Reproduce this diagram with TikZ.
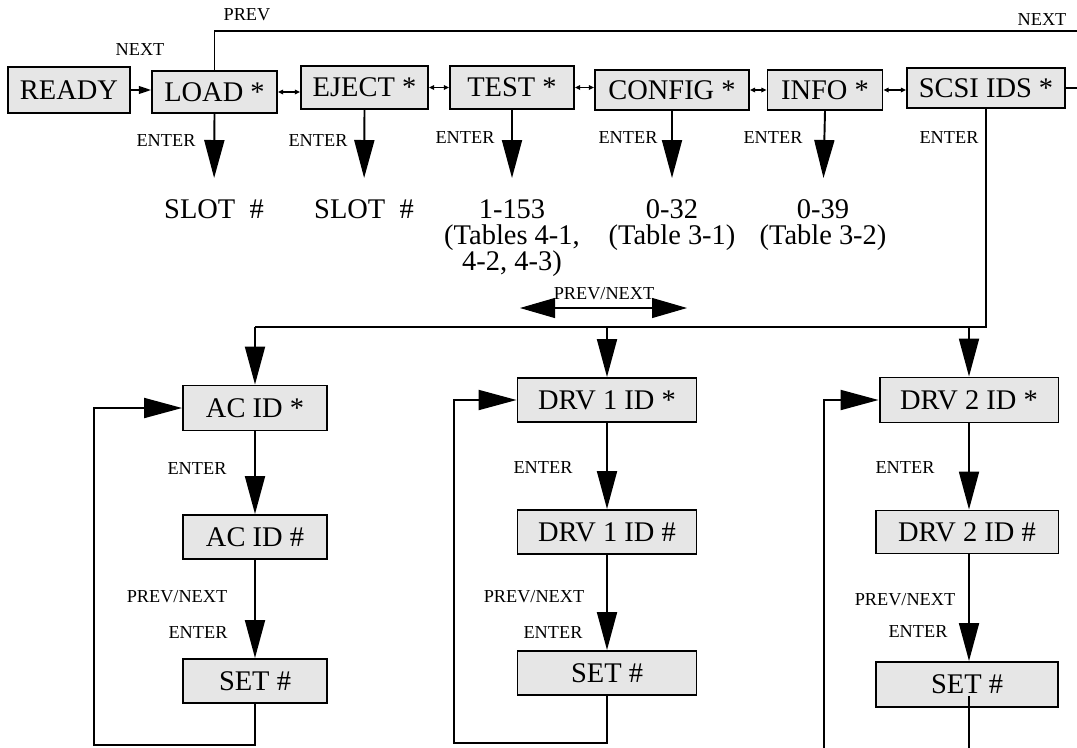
\documentclass[tikz,border=0pt]{standalone}
\usepackage{fontspec}
\setmainfont{Liberation Serif}
\usetikzlibrary{arrows.meta, positioning}
\definecolor{panelgray}{HTML}{E6E6E6}
\newcommand{\bigtxt}{\fontsize{16.2}{15}\selectfont}
\newcommand{\smalltxt}{\fontsize{10.4}{12}\selectfont}

\begin{document}
\begin{tikzpicture}[x=0.02cm, y=-0.02cm,
    menu/.style={draw, fill=panelgray, line width=1.1pt, font=\bigtxt, inner sep=0pt},
    lbl/.style={font=\smalltxt, inner sep=0pt},
    val/.style={font=\bigtxt, align=center, inner sep=0pt, anchor=north},
    link/.style={line width=1.1pt},
    enter/.style={line width=1.1pt, -{Triangle[length=0.76cm, width=0.4cm]}},
    hop/.style={line width=0.8pt, {Triangle[length=3pt, width=2.6pt]}-{Triangle[length=3pt, width=2.6pt]}},
    scroll/.style={line width=0.6pt, {Triangle[length=0.7cm, width=0.4cm]}-{Triangle[length=0.7cm, width=0.4cm]}}]
  \useasboundingbox (0,0) rectangle (1077,747);
  \clip (0,0) rectangle (1077,747);

  % top menu row
  \node[menu, minimum width=2.44cm, minimum height=0.92cm] (ready) at (69,90) {READY};
  \node[menu, minimum width=2.5cm, minimum height=0.84cm] (load) at (214.5,92) {LOAD *};
  \node[menu, minimum width=2.54cm, minimum height=0.86cm] (eject) at (364.5,87.5) {EJECT *};
  \node[menu, minimum width=2.48cm, minimum height=0.86cm] (test) at (512,87.5) {TEST *};
  \node[menu, minimum width=3.08cm, minimum height=0.8cm] (config) at (672,90) {CONFIG *};
  \node[menu, minimum width=2.3cm, minimum height=0.8cm] (info) at (825,90) {INFO *};
  \node[menu, minimum width=3.16cm, minimum height=0.8cm] (scsi) at (986,88) {SCSI IDS *};

  \draw[line width=0.8pt, -{Triangle[length=7pt, width=4.5pt]}] (ready.east) -- (ready.east -| load.west);
  \draw[hop] (load.east) -- (load.east -| eject.west);
  \draw[hop] (eject.east) -- (eject.east -| test.west);
  \draw[hop] (test.east) -- (test.east -| config.west);
  \draw[hop] (config.east) -- (config.east -| info.west);
  \draw[hop] (info.east) -- (info.east -| scsi.west);

  \node[lbl] (prevtop) at (247,15) {PREV};
  \node[lbl] (nexttop) at (1042,20) {NEXT};
  \node[lbl] (nextready) at (140,50) {NEXT};

  % wrap around from the last item
  \coordinate (wrapR) at (1095,88);
  \coordinate (wrapL) at (214.5,31);
  \draw[link] (scsi.east) -- (wrapR) |- (wrapL) -- (load.north);

  % values under each item
  \node[val] (loadval) at (214,199) {SLOT\ \ \#};
  \node[val] (ejectval) at (364,199) {SLOT\ \ \#};
  \node[val] (testval) at (512,199) {1-153\\(Tables 4-1,\\4-2, 4-3)};
  \node[val] (configval) at (672,199) {0-32\\(Table 3-1)};
  \node[val] (infoval) at (823,199) {0-39\\(Table 3-2)};

  \draw[enter, shorten >=0.42cm] (load.south) -- (loadval.north);
  \draw[enter, shorten >=0.42cm] (eject.south) -- (ejectval.north);
  \draw[enter, shorten >=0.42cm] (test.south) -- (testval.north);
  \draw[enter, shorten >=0.42cm] (config.south) -- (configval.north);
  \draw[enter, shorten >=0.42cm] (info.south) -- (infoval.north);

  \node[lbl] (enload) at (166,141) {ENTER};
  \node[lbl] (eneject) at (318,141) {ENTER};
  \node[lbl] (entest) at (465,138) {ENTER};
  \node[lbl] (enconfig) at (628,138) {ENTER};
  \node[lbl] (eninfo) at (773,138) {ENTER};
  \node[lbl] (enscsi) at (949,138) {ENTER};

  % SCSI ID columns
  \node[menu, minimum width=2.88cm, minimum height=0.9cm] (acid) at (255,408) {AC ID *};
  \node[menu, minimum width=2.88cm, minimum height=0.88cm] (acnum) at (255,537) {AC ID \#};
  \node[menu, minimum width=2.88cm, minimum height=0.88cm] (acset) at (255,681) {SET \#};

  \node[menu, minimum width=3.58cm, minimum height=0.88cm] (drvone) at (607,400) {DRV 1 ID *};
  \node[menu, minimum width=3.58cm, minimum height=0.88cm] (drvonenum) at (607,532) {DRV 1 ID \#};
  \node[menu, minimum width=3.58cm, minimum height=0.88cm] (drvoneset) at (607,673) {SET \#};

  \node[menu, minimum width=3.58cm, minimum height=0.9cm] (drvtwo) at (969,400) {DRV 2 ID *};
  \node[menu, minimum width=3.66cm, minimum height=0.86cm] (drvtwonum) at (967,532) {DRV 2 ID \#};
  \node[menu, minimum width=3.64cm, minimum height=0.9cm] (drvtwoset) at (967,684.5) {SET \#};

  \coordinate (busL) at (255,327);
  \draw[link] (scsi.south) |- (busL);
  \draw[enter] (busL) -- (acid.north);
  \draw[enter] (drvone.north |- busL) -- (drvone.north);
  \draw[enter] (drvtwo.north |- busL) -- (drvtwo.north);

  \coordinate (pnL) at (520,308);
  \coordinate (pnR) at (687,308);
  \draw[scroll] (pnL) -- (pnR);
  \node[lbl] (pnbus) at (604,294) {PREV/NEXT};

  \draw[enter] (acid.south) -- (acnum.north);
  \draw[enter] (acnum.south) -- (acset.north);
  \draw[enter] (drvone.south) -- (drvonenum.north);
  \draw[enter] (drvonenum.south) -- (drvoneset.north);
  \draw[enter] (drvtwo.south) -- (drvtwonum.north -| drvtwo.south);
  \draw[enter] (drvtwonum.south -| drvtwo.south) -- (drvtwoset.north -| drvtwo.south);

  \coordinate (loopA) at (94,745);
  \coordinate (loopB) at (454,743);
  \coordinate (loopC) at (824,770);
  \draw[enter] (acset.south) |- (loopA) |- (acid.west);
  \draw[enter] (drvoneset.south) |- (loopB) |- (drvone.west);
  \draw[enter] (drvoneset.south -| drvtwo.south) |- (loopC) |- (drvtwo.west);

  \node[lbl] (enac) at (197,469) {ENTER};
  \node[lbl] (pnac) at (177,597) {PREV/NEXT};
  \node[lbl] (ensetac) at (198,633) {ENTER};
  \node[lbl] (endone) at (543,468) {ENTER};
  \node[lbl] (pndone) at (534,597) {PREV/NEXT};
  \node[lbl] (ensetdone) at (553,633) {ENTER};
  \node[lbl] (endtwo) at (905,468) {ENTER};
  \node[lbl] (pndtwo) at (905,600) {PREV/NEXT};
  \node[lbl] (ensetdtwo) at (918,632) {ENTER};
\end{tikzpicture}
\end{document}
